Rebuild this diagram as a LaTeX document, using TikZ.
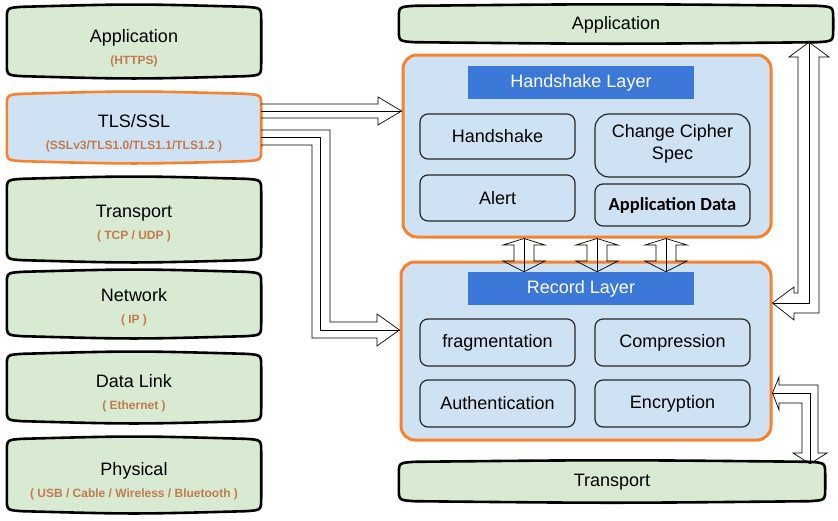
\documentclass[tikz,border=0pt]{standalone}
\usepackage{fontspec}
\setmainfont{Liberation Sans}
\newfontfamily\calibfont{Carlito}
\usetikzlibrary{calc,backgrounds}

\definecolor{layergreen}{HTML}{D9EAD3}
\definecolor{tlsblue}{HTML}{CFE2F3}
\definecolor{tlsorange}{HTML}{F8812C}
\definecolor{titleblue}{HTML}{3C78D8}
\definecolor{subtxt}{HTML}{BF7B4F}

\newcommand{\sublabel}[1]{{\fontsize{12}{14}\selectfont\bfseries\color{subtxt}#1}}

\tikzset{
	layer/.style={inner sep=0pt, minimum width=254, align=center, font=\fontsize{18}{22}\selectfont},
	barrel/.style={draw=black, line width=2.6pt, fill=layergreen},
	tlsbarrel/.style={barrel, draw=tlsorange, fill=tlsblue},
	bigbox/.style={draw=tlsorange, line width=3pt, fill=tlsblue, rounded corners=14pt, inner sep=0pt},
	bandbox/.style={fill=titleblue, text=white, minimum width=226, minimum height=33, inner sep=0pt, font=\fontsize{18}{22}\selectfont},
	itembox/.style={draw=black!85, line width=1.2pt, fill=tlsblue, rounded corners=8pt, minimum width=155, inner sep=0pt, align=center, font=\fontsize{18}{22}\selectfont},
	blk/.style={draw=black, line width=0.7pt, line join=miter},
}

\begin{document}
\begin{tikzpicture}[x=1pt, y=-1pt]
	\useasboundingbox (0,0) rectangle (838,520);

	% OSI stack on the left (nodes sit on their text, boxes drawn below)
	\node[layer, minimum height=67] (app) at (134,48.5) {Application\\\sublabel{(HTTPS)}};
	\node[layer, minimum height=65] (tls) at (134,133.5) {TLS/SSL\\\sublabel{(SSLv3/TLS1.0/TLS1.1/TLS1.2 )}};
	\node[layer, minimum height=79] (trans) at (134,223.5) {Transport\\\sublabel{( TCP / UDP )}};
	\node[layer, minimum height=62] (net) at (134,307) {Network\\\sublabel{( IP )}};
	\node[layer, minimum height=65] (link) at (134,393.5) {Data Link\\\sublabel{( Ethernet )}};
	\node[layer, minimum height=70] (phys) at (134,481) {Physical\\\sublabel{( USB / Cable / Wireless / Bluetooth )}};

	% TLS detail on the right
	\node[layer, minimum width=434, minimum height=34] (topapp) at (616,25) {Application};
	\node[layer, minimum width=426, minimum height=37] (bottrans) at (612,482.5) {Transport};

	\node[bigbox, minimum width=368, minimum height=182] (hs) at (587,146) {};
	\node[bandbox] (hstitle) at (581,82.5) {Handshake Layer};
	\node[itembox, minimum height=45] (hsk) at (497.5,136.5) {Handshake};
	\node[itembox, minimum height=63, rounded corners=14pt] (ccs) at (672.5,145.5) {Change Cipher\\Spec\\[-14pt]};
	\node[itembox, minimum height=46] (alert) at (497.5,198) {Alert};
	\node[itembox, minimum height=42, font=\calibfont\bfseries\fontsize{18.5}{22}\selectfont] (appdata) at (672.5,205) {Application Data};

	\node[bigbox, minimum width=370, minimum height=178] (rec) at (586,351) {};
	\node[bandbox] (rectitle) at (581,288.5) {Record Layer};
	\node[itembox, minimum height=47] (frag) at (497.5,342.5) {fragmentation};
	\node[itembox, minimum height=47] (comp) at (672.5,342.5) {Compression};
	\node[itembox, minimum height=47] (auth) at (497.5,403.5) {Authentication};
	\node[itembox, minimum height=47] (enc) at (672.5,403.5) {Encryption};

	% barrel outlines behind the layer texts
	\begin{scope}[on background layer]
		\foreach \nm/\st/\bl/\up in {app/barrel/4pt/7pt, tls/tlsbarrel/4pt/6pt, trans/barrel/4pt/4pt, net/barrel/4pt/3pt, link/barrel/4pt/6pt, phys/barrel/4pt/6pt, topapp/barrel/3pt/1pt, bottrans/barrel/3pt/1pt}
			\draw[\st] let \p1=([yshift=\up]\nm.north west), \p2=([yshift=\up]\nm.south east) in
				(\x1,{\y2+12pt}) -- (\x1,{\y1-12pt})
				.. controls (\x1,\y1) .. ({\x1+16pt},{\y1+1pt})
				.. controls ({0.5*(\x1+\x2)},{\y1+\bl}) .. ({\x2-16pt},{\y1+1pt})
				.. controls (\x2,\y1) .. (\x2,{\y1-12pt})
				-- (\x2,{\y2+12pt})
				.. controls (\x2,\y2) .. ({\x2-16pt},{\y2-1pt})
				.. controls ({0.5*(\x1+\x2)},{\y2-\bl}) .. ({\x1+16pt},{\y2-1pt})
				.. controls (\x1,\y2) .. (\x1,{\y2+12pt}) -- cycle;
	\end{scope}

	% TLS/SSL to handshake layer
	\draw[blk] (tls.east |- 0,104) -- (378,104) -- (378,97) -- (hs.west |- 0,111) -- (378,125) -- (378,118) -- (tls.east |- 0,118);
	\draw[blk] (tls.east |- 0,111) -- (hs.west |- 0,111);

	% TLS/SSL to record layer
	\draw[blk] (tls.east |- 0,130) -- (330,130) -- (330,322) -- (377,322) -- (377,314) -- (rec.west |- 0,330)
		-- (377,346) -- (377,338) -- (312,338) -- (312,145) -- (tls.east |- 0,145);
	\draw[blk] (tls.east |- 0,137) -- (320,137) -- (320,330) -- (rec.west |- 0,330);

	% handshake <-> record
	\foreach \c in {524,597,666} {
		\draw[blk] (hs.south -| \c,0) -- (\c+21,245) -- (\c+10,245) -- (\c+10,261) -- (\c+21,261) -- (rectitle.north -| \c,0)
			-- (\c-21,261) -- (\c-10,261) -- (\c-10,245) -- (\c-21,245) -- cycle;
		\draw[blk] (hs.south -| \c,0) -- (rectitle.north -| \c,0);
	}

	% application <-> record
	\draw[blk] (topapp.south -| 809,0) -- (829,57) -- (819,57) -- (819,313) -- (794,313) -- (794,320) -- (rec.east |- 0,303)
		-- (794,287) -- (794,293) -- (798,293) -- (798,57) -- (789,57) -- cycle;
	\draw[blk] (topapp.south -| 809,0) -- (809,303) -- (rec.east |- 0,303);

	% record <-> transport
	\draw[blk] (rec.east |- 0,393) -- (779,377) -- (779,385) -- (818,385) -- (818,453) -- (827,453) -- (bottrans.north -| 810,0)
		-- (793,453) -- (802,453) -- (802,403) -- (779,403) -- (779,410) -- cycle;
	\draw[blk] (rec.east |- 0,393) -- (810,393) -- (bottrans.north -| 810,0);
\end{tikzpicture}
\end{document}
